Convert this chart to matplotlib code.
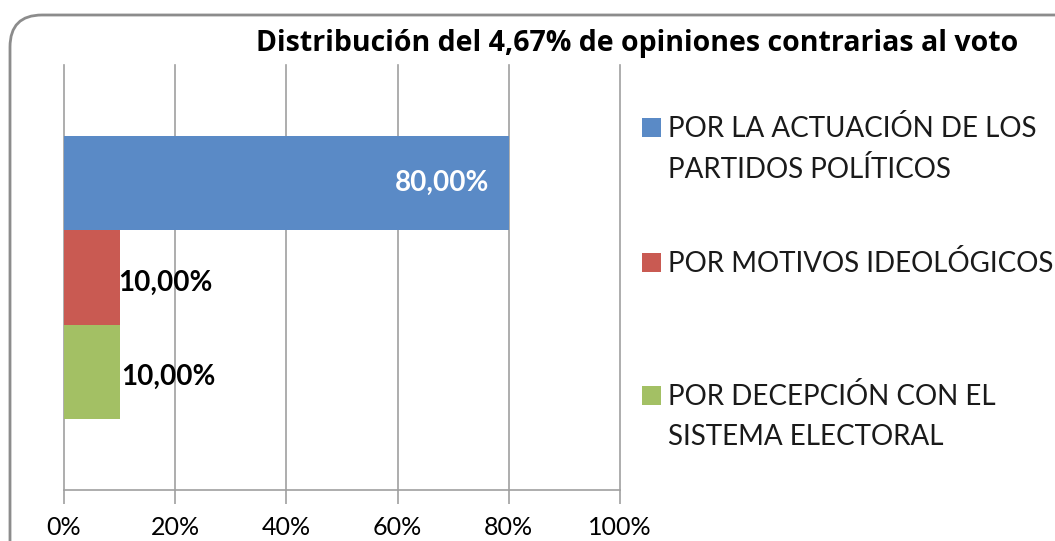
import matplotlib.pyplot as plt
from matplotlib.patches import FancyBboxPatch, Rectangle
from matplotlib.transforms import IdentityTransform
from matplotlib.ticker import FuncFormatter

plt.rcParams['font.family'] = ['Lato', 'DejaVu Sans']

title = "Distribución del 4,67% de opiniones contrarias al voto"
categories = ["POR LA ACTUACIÓN DE LOS\nPARTIDOS POLÍTICOS",
              "POR MOTIVOS IDEOLÓGICOS",
              "POR DECEPCIÓN CON EL\nSISTEMA ELECTORAL"]
values = [80.0, 10.0, 10.0]
colors = ['#5a8ac6', '#c95a52', '#a3c064']
xticks = [0, 20, 40, 60, 80, 100]

W, H = 1055, 541
fig = plt.figure(figsize=(W / 100, H / 100), dpi=100)

# rounded chart frame, runs off the right and bottom edge
frame = FancyBboxPatch((10, -40), 1100, H - 15 + 40,
                       boxstyle="round,pad=0,rounding_size=32",
                       transform=IdentityTransform(), facecolor='white',
                       edgecolor='#8c8c8c', linewidth=2, zorder=-5)
fig.patches.append(frame)

ax = fig.add_axes([64 / W, (H - 490) / H, 556 / W, 425 / H])
ax.set_facecolor('none')

ypos = [1, 0, -1]
pads = [-14, -1, 1.5]
for i in range(3):
    bars = ax.barh(ypos[i], values[i], height=1.0, color=colors[i], zorder=2)
    lab = f"{values[i]:.2f}".replace('.', ',') + "%"
    if values[i] > 50:
        txt = ax.bar_label(bars, labels=[lab], padding=pads[i], color='white',
                           fontweight='bold', fontsize=20)
        for t in txt:
            t.set_ha('right')
    else:
        txt = ax.bar_label(bars, labels=[lab], padding=pads[i], color='black',
                           fontweight='bold', fontsize=20)
        for t in txt:
            t.xyann = (t.xyann[0], -3.5)

ax.set_xlim(0, 100)
ax.set_ylim(-2.245, 2.245)
ax.set_xticks(xticks)
ax.xaxis.set_major_formatter(FuncFormatter(lambda v, p: f"{int(v)}%"))
ax.set_yticks([])
ax.grid(axis='x', color='#a0a0a0', linewidth=1.2, zorder=1)
for g in ax.get_xgridlines():
    g.set_clip_on(False)
ax.set_axisbelow(True)
for s in ['top', 'right', 'left']:
    ax.spines[s].set_visible(False)
ax.spines['bottom'].set_color('#a0a0a0')
ax.spines['bottom'].set_linewidth(1.2)
ax.tick_params(axis='x', direction='out', length=10, width=1.2,
               color='#a0a0a0', labelsize=18, pad=9, labelcolor='black')

fig.text(1018 / W, 1 - 43 / H, title, ha='right', va='center',
         fontsize=20.5, fontweight='bold', color='black', family='Open Sans')

# legend
leg_y = [127, 262, 395]
for i in range(3):
    fig.patches.append(Rectangle((642, H - leg_y[i] - 9.5), 19, 19,
                                 transform=IdentityTransform(),
                                 facecolor=colors[i], edgecolor='none'))
    fig.text(668 / W, 1 - (leg_y[i] - 12) / H, categories[i], ha='left',
             va='top', fontsize=20, color='#1a1a1a', linespacing=1.65)

fig.savefig("out.png", dpi=100)
